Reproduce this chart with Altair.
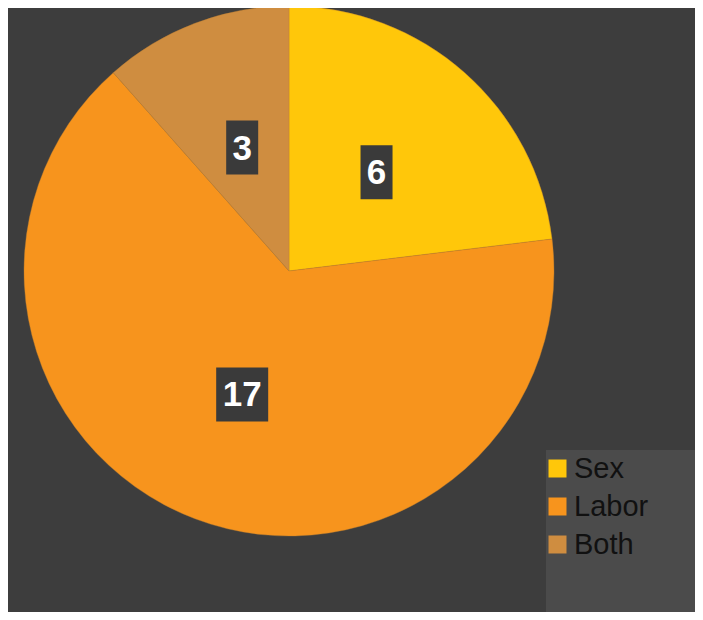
import altair as alt
import pandas as pd

categories = ["Sex", "Labor", "Both"]
values = [6, 17, 3]
colors = ["#FFC70A", "#F7941D", "#CF8D40"]

df = pd.DataFrame({"category": categories, "value": values, "idx": list(range(len(categories)))})

W, H = 687, 604
CX, CY = 281, 263
R = 265
LR = 132

base = alt.Chart(df)

xs = alt.Scale(domain=[-CX, W - CX], nice=False, zero=False)
ys = alt.Scale(domain=[-(H - CY), CY], nice=False, zero=False)

legend_box = base.mark_rect(color="#4b4b4b").encode(
    x=alt.value(538), x2=alt.value(W), y=alt.value(442), y2=alt.value(H)
)

pie = base.mark_arc(outerRadius=R, x=CX, y=CY, stroke="#c08030", strokeWidth=0.4).encode(
    theta=alt.Theta("value:Q", stack=True),
    color=alt.Color(
        "category:N",
        scale=alt.Scale(domain=categories, range=colors),
        legend=alt.Legend(
            title=None, orient="none", legendX=535, legendY=446,
            symbolType="square", symbolSize=324, symbolStrokeWidth=0,
            labelFontSize=29, labelColor="#111111", labelFont="Liberation Sans",
            rowPadding=8, labelOffset=2, padding=0,
        ),
    ),
    order=alt.Order("idx:Q"),
)

lab = (
    base.transform_window(cum="sum(value)", sort=[alt.SortField("idx")], frame=[None, 0])
    .transform_joinaggregate(total="sum(value)")
    .transform_calculate(ang="2*PI*(datum.cum - datum.value/2)/datum.total")
    .transform_calculate(lx=f"{LR}*sin(datum.ang)", ly=f"{LR}*cos(datum.ang)")
    .transform_calculate(hw="datum.value >= 10 ? 26 : 16")
    .transform_calculate(
        x1="datum.lx - datum.hw", x2="datum.lx + datum.hw",
        y1="datum.ly - 27", y2="datum.ly + 27",
    )
)

boxes = lab.mark_rect(color="#3a3a3a").encode(
    x=alt.X("x1:Q", scale=xs, axis=None),
    x2="x2:Q",
    y=alt.Y("y1:Q", scale=ys, axis=None),
    y2="y2:Q",
)

texts = lab.mark_text(
    fontSize=35, fontWeight="bold", color="white", font="Liberation Sans", baseline="middle", dy=1
).encode(
    x=alt.X("lx:Q", scale=xs, axis=None),
    y=alt.Y("ly:Q", scale=ys, axis=None),
    text="value:Q",
)

chart = (
    alt.layer(legend_box, pie, boxes, texts)
    .properties(width=W, height=H, autosize="none", padding=0, background="#3d3d3d")
    .configure_view(stroke=None)
)

chart.save("out.html", embed_options={"renderer": "svg", "actions": False})
